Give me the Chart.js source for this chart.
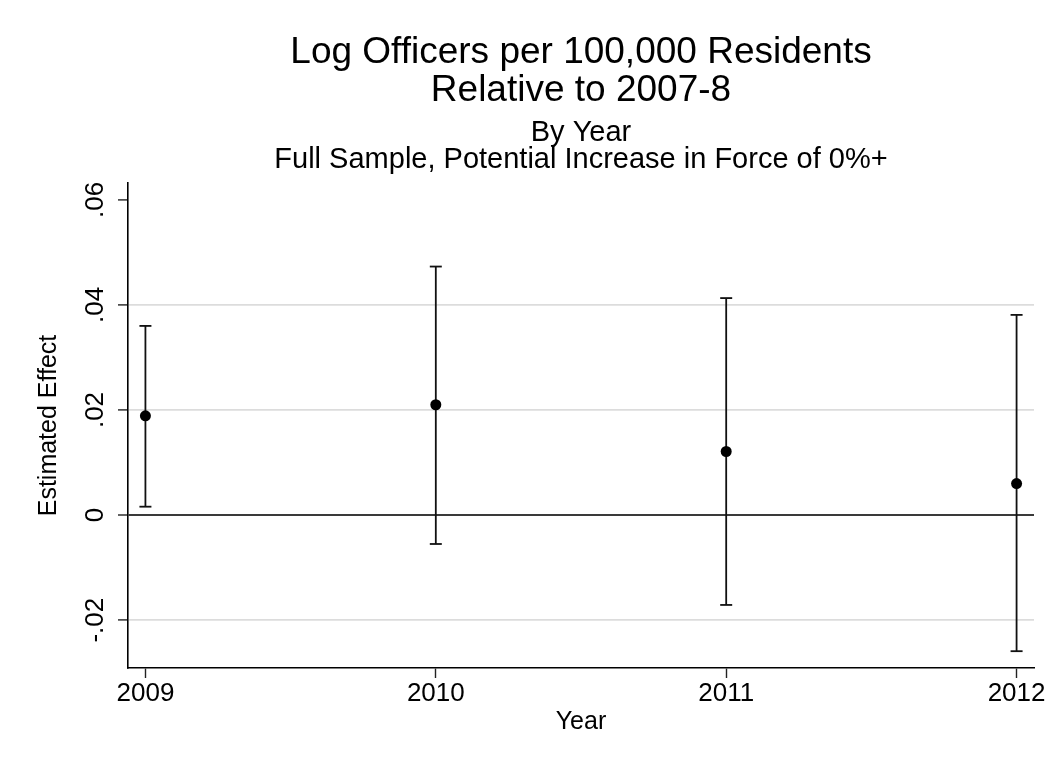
<!DOCTYPE html>
<html>
<head>
<meta charset="utf-8">
<script src="https://cdn.jsdelivr.net/npm/chart.js@4"></script>
<style>
  html, body { margin: 0; padding: 0; background: #ffffff; }
  canvas { display: block; }
</style>
</head>
<body>
<canvas id="chart" width="1049" height="769"></canvas>
<script>
// Estimated effect by year with confidence intervals
const years = [2009, 2010, 2011, 2012];
const estimates = [0.0189, 0.0210, 0.0121, 0.0060];
const lowerCI = [0.0016, -0.0055, -0.0171, -0.0259];
const upperCI = [0.0360, 0.0473, 0.0413, 0.0381];

const yTickValues = [-0.02, 0, 0.02, 0.04, 0.06];
const yTickLabels = ['-.02', '0', '.02', '.04', '.06'];

const titleLines = ['Log Officers per 100,000 Residents', 'Relative to 2007-8'];
const subtitleLines = ['By Year', 'Full Sample, Potential Increase in Force of 0%+'];
const xAxisTitle = 'Year';
const yAxisTitle = 'Estimated Effect';

const FONT = "'Liberation Sans', Arial, Helvetica, sans-serif";
Chart.defaults.font.family = FONT;
Chart.defaults.color = '#000000';

const INK = '#111111';

// one vertical whisker per year, capped at both ends
const whiskerSets = years.map((yr, i) => ({
  label: 'ci' + yr,
  data: [{ x: yr, y: lowerCI[i] }, { x: yr, y: upperCI[i] }],
  showLine: true,
  borderColor: INK,
  borderWidth: 1.8,
  pointStyle: 'line',
  pointRadius: 6,
  pointBorderWidth: 1.8,
  pointBorderColor: INK,
  pointBackgroundColor: INK,
  order: 2
}));

const pointSet = {
  label: 'estimate',
  data: years.map((yr, i) => ({ x: yr, y: estimates[i] })),
  showLine: false,
  pointStyle: 'circle',
  pointRadius: 5.5,
  pointBackgroundColor: '#000000',
  pointBorderColor: '#000000',
  pointBorderWidth: 0,
  order: 1
};

new Chart(document.getElementById('chart'), {
  type: 'scatter',
  data: { datasets: [pointSet, ...whiskerSets] },
  options: {
    responsive: false,
    animation: false,
    devicePixelRatio: 1,
    layout: {
      autoPadding: false,
      padding: { left: 0, right: 15, top: 0, bottom: 0 }
    },
    plugins: {
      legend: { display: false },
      tooltip: { enabled: false },
      title: {
        display: true,
        fullSize: false,
        text: titleLines,
        color: '#000000',
        font: { size: 37, weight: 'normal', lineHeight: '38px' },
        padding: { top: 34, bottom: 0 }
      },
      subtitle: {
        display: true,
        fullSize: false,
        text: subtitleLines,
        color: '#000000',
        font: { size: 29, weight: 'normal', lineHeight: '27px' },
        padding: { top: 9.5, bottom: 9.5 }
      }
    },
    scales: {
      x: {
        type: 'linear',
        min: 2008.94,
        max: 2012.06,
        afterFit: (scale) => { scale.height = 101; },
        afterBuildTicks: (scale) => { scale.ticks = years.map(v => ({ value: v })); },
        ticks: {
          autoSkip: false,
          padding: 0,
          maxRotation: 0,
          font: { size: 26 },
          color: '#000000',
          callback: (v) => String(v)
        },
        grid: {
          drawOnChartArea: false,
          drawTicks: true,
          tickLength: 10,
          tickColor: '#222222',
          tickWidth: 1.4
        },
        border: { display: true, color: '#000000', width: 1.6 },
        title: {
          display: true,
          text: xAxisTitle,
          font: { size: 25 },
          color: '#000000',
          padding: { top: 0, bottom: 32 }
        }
      },
      y: {
        type: 'linear',
        min: -0.0291,
        max: 0.0632,
        afterFit: (scale) => { scale.width = 128; },
        afterBuildTicks: (scale) => { scale.ticks = yTickValues.map(v => ({ value: v })); },
        ticks: {
          autoSkip: false,
          minRotation: 90,
          maxRotation: 90,
          crossAlign: 'center',
          padding: 0,
          font: { size: 26 },
          color: '#000000',
          callback: (v) => {
            const k = yTickValues.findIndex(t => Math.abs(t - v) < 1e-9);
            return k >= 0 ? yTickLabels[k] : '';
          }
        },
        grid: {
          drawOnChartArea: true,
          drawTicks: true,
          tickLength: 10,
          tickColor: '#222222',
          tickWidth: 1.4,
          color: (ctx) => {
            const v = ctx.tick ? ctx.tick.value : null;
            if (v === null) return '#dcdcdc';
            if (Math.abs(v) < 1e-9) return '#3a3a3a';
            if (Math.abs(v - 0.06) < 1e-9) return 'rgba(0,0,0,0)';
            return '#dcdcdc';
          },
          lineWidth: (ctx) => {
            const v = ctx.tick ? ctx.tick.value : null;
            return (v !== null && Math.abs(v) < 1e-9) ? 2 : 1.8;
          }
        },
        border: { display: true, color: '#000000', width: 1.6 },
        title: {
          display: true,
          text: yAxisTitle,
          font: { size: 25 },
          color: '#000000',
          padding: { top: 34, bottom: 0 }
        }
      }
    }
  }
});
</script>
</body>
</html>
